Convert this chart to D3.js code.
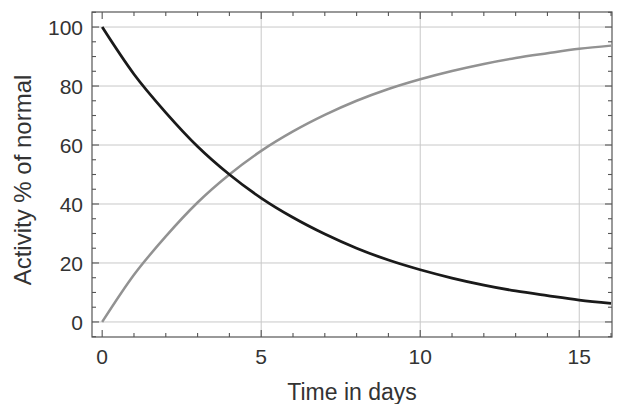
<!DOCTYPE html>
<html>
<head>
<meta charset="utf-8">
<script src="https://cdn.jsdelivr.net/npm/d3@7"></script>
<style>
  body { margin: 0; background: #fff; }
  svg { display: block; font-family: "Liberation Sans", Arial, sans-serif; }
</style>
</head>
<body>
<div id="chart"></div>
<script>
'use strict'

// days sampled along the curves
var days = [0, 1, 2, 3, 4, 5, 6, 7, 8, 9, 10, 11, 12, 13, 14, 15, 16]
// falling curve (black)
var falling = [100, 84, 71, 59.5, 50, 42, 35.4, 29.8, 25, 21, 17.7, 14.9, 12.5, 10.5, 8.9, 7.4, 6.3]
// rising curve (gray)
var rising = [0, 16, 29, 40.5, 50, 58, 64.6, 70.2, 75, 79, 82.3, 85.1, 87.5, 89.5, 91.1, 92.6, 93.7]

var xMajor = [0, 5, 10, 15]
var yMajor = [0, 20, 40, 60, 80, 100]

var width = 620
var height = 404
var margin = { top: 12, right: 8, bottom: 67, left: 92 }

var x = d3.scaleLinear()
  .domain([-0.32, 16.03])
  .range([margin.left, width - margin.right])
var y = d3.scaleLinear()
  .domain([-5.1, 105.1])
  .range([height - margin.bottom, margin.top])

var svg = d3.select('#chart').append('svg')
  .attr('width', width)
  .attr('height', height)

var x0 = margin.left
var x1 = width - margin.right
var y0 = height - margin.bottom
var y1 = margin.top

// grid
svg.append('g').selectAll('line')
  .data(xMajor.filter(function (d) { return d > 0 }))
  .enter().append('line')
  .attr('x1', function (d) { return x(d) })
  .attr('x2', function (d) { return x(d) })
  .attr('y1', y1)
  .attr('y2', y0)
  .style('stroke', '#c8c8c8')
  .style('stroke-width', 1)
svg.append('g').selectAll('line')
  .data(yMajor)
  .enter().append('line')
  .attr('x1', x0)
  .attr('x2', x1)
  .attr('y1', function (d) { return y(d) })
  .attr('y2', function (d) { return y(d) })
  .style('stroke', '#c8c8c8')
  .style('stroke-width', 1)

// curves
var line = d3.line()
  .x(function (d) { return x(d[0]) })
  .y(function (d) { return y(d[1]) })
  .curve(d3.curveMonotoneX)

svg.append('path')
  .datum(d3.zip(days, rising))
  .attr('d', line)
  .style('fill', 'none')
  .style('stroke', '#929292')
  .style('stroke-width', 2.5)
svg.append('path')
  .datum(d3.zip(days, falling))
  .attr('d', line)
  .style('fill', 'none')
  .style('stroke', '#1a1a1a')
  .style('stroke-width', 2.8)

// frame
svg.append('rect')
  .attr('x', x0)
  .attr('y', y1)
  .attr('width', x1 - x0)
  .attr('height', y0 - y1)
  .style('fill', 'none')
  .style('stroke', '#555')
  .style('stroke-width', 1.2)

// inward ticks on every side
function frameTicks (scale, values, orient, size) {
  var g = svg.append('g')
  if (orient === 'bottom' || orient === 'top') {
    var base = orient === 'bottom' ? y0 : y1
    var dir = orient === 'bottom' ? -1 : 1
    g.selectAll('line').data(values).enter().append('line')
      .attr('x1', function (d) { return scale(d) })
      .attr('x2', function (d) { return scale(d) })
      .attr('y1', base)
      .attr('y2', base + dir * size)
  } else {
    var bx = orient === 'left' ? x0 : x1
    var dx = orient === 'left' ? 1 : -1
    g.selectAll('line').data(values).enter().append('line')
      .attr('y1', function (d) { return scale(d) })
      .attr('y2', function (d) { return scale(d) })
      .attr('x1', bx)
      .attr('x2', bx + dx * size)
  }
  g.selectAll('line').style('stroke', '#555').style('stroke-width', 1.1)
}

var xMinor = d3.range(0, 17).filter(function (d) { return xMajor.indexOf(d) < 0 })
var yMinor = d3.range(-5, 106, 5).filter(function (d) { return yMajor.indexOf(d) < 0 })

frameTicks(x, xMajor, 'bottom', 7)
frameTicks(x, xMinor, 'bottom', 4)
frameTicks(x, xMajor, 'top', 7)
frameTicks(x, xMinor, 'top', 4)
frameTicks(y, yMajor, 'left', 7)
frameTicks(y, yMinor, 'left', 4)
frameTicks(y, yMajor, 'right', 7)
frameTicks(y, yMinor, 'right', 4)

// tick labels
svg.append('g').selectAll('text')
  .data(xMajor)
  .enter().append('text')
  .attr('x', function (d) { return x(d) })
  .attr('y', y0 + 27)
  .attr('text-anchor', 'middle')
  .style('font-size', '21px')
  .style('fill', '#333')
  .text(function (d) { return d })
svg.append('g').selectAll('text')
  .data(yMajor)
  .enter().append('text')
  .attr('x', x0 - 9)
  .attr('y', function (d) { return y(d) })
  .attr('dy', '0.36em')
  .attr('text-anchor', 'end')
  .style('font-size', '21px')
  .style('fill', '#333')
  .text(function (d) { return d })

// axis titles
svg.append('text')
  .attr('x', (x0 + x1) / 2)
  .attr('y', 400)
  .attr('text-anchor', 'middle')
  .style('font-size', '23px')
  .style('fill', '#333')
  .text('Time in days')
svg.append('text')
  .attr('transform', 'translate(31,180) rotate(-90)')
  .attr('text-anchor', 'middle')
  .style('font-size', '24px')
  .style('fill', '#333')
  .text('Activity % of normal')
</script>
</body>
</html>
